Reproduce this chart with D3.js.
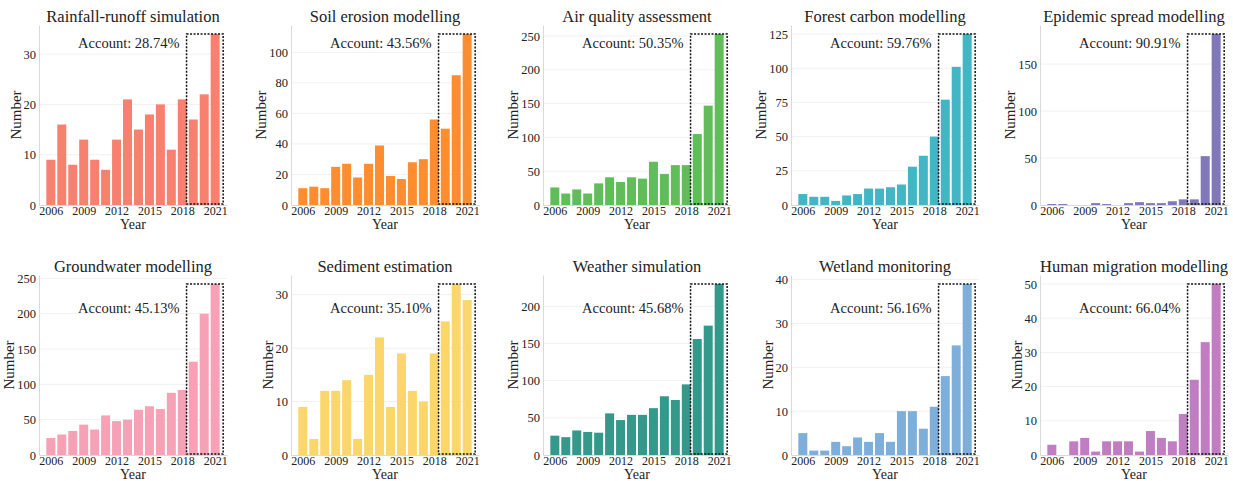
<!DOCTYPE html>
<html>
<head>
<meta charset="utf-8">
<script src="https://cdn.jsdelivr.net/npm/d3@7"></script>
<style>
body{margin:0;background:#fff;}
svg text{font-family:"Liberation Serif","DejaVu Serif",serif !important;fill:#222;}
</style>
</head>
<body>
<div id="chart"></div>
<script>
//年份与刻度
var years=[2006,2007,2008,2009,2010,2011,2012,2013,2014,2015,2016,2017,2018,2019,2020,2021];
var yearTicks=[2006,2009,2012,2015,2018,2021];
var boxYears=[2019,2020,2021];

var titles=["Rainfall-runoff simulation","Soil erosion modelling","Air quality assessment","Forest carbon modelling","Epidemic spread modelling",
    "Groundwater modelling","Sediment estimation","Weather simulation","Wetland monitoring","Human migration modelling"];

var rainfall=[9,16,8,13,9,7,13,21,15,18,20,11,21,17,22,34];
var soil=[11,12,11,25,27,18,27,39,19,17,28,30,56,50,85,112];
var air=[26,17,23,17,32,41,34,41,39,64,46,59,59,105,147,253];
var forest=[8,6,6,3,7,8,12,12,13,15,28,36,50,77,101,125];
var epidemic=[1,1,0,0,2,1,0,2,3,2,2,4,6,6,52,182];
var groundwater=[24,29,34,43,36,56,48,50,64,69,65,88,92,132,200,242];
var sediment=[9,3,12,12,14,3,15,22,9,19,12,10,19,25,32,29];
var weather=[26,24,33,31,30,56,47,54,54,63,79,74,95,156,174,230];
var wetland=[5,1,1,3,2,4,3,5,3,10,10,6,11,18,25,39];
var migration=[3,0,4,5,1,4,4,4,1,7,5,4,12,22,33,50];

var accounts=["28.74%","43.56%","50.35%","59.76%","90.91%","45.13%","35.10%","45.68%","56.16%","66.04%"];

var yTicks=[[0,10,20,30],[0,20,40,60,80,100],[0,50,100,150,200,250],[0,25,50,75,100,125],[0,50,100,150],
    [0,50,100,150,200,250],[0,10,20,30],[0,50,100,150,200],[0,10,20,30,40],[0,10,20,30,40,50]];

var series=[rainfall,soil,air,forest,epidemic,groundwater,sediment,weather,wetland,migration];

var colors=["#F8806F","#FD8D2E","#61BD5A","#43B6C5","#8078B8","#F7A1B7","#FBD66B","#32998B","#7EAFDA","#C17DC1"];

var colLeft=[39,291,543,791,1040],
    rowTop=[25,275],
    plotW=188,
    plotH=180,
    barW=9,
    serif="'Liberation Serif','DejaVu Serif',serif",
    axisColor="#d9d9d9",
    gridColor="#f1f1f1";

var svg=d3.select("#chart")
    .append("svg")
    .attr("width",1233)
    .attr("height",481)
    .attr("font-family",serif);

series.forEach(function (values,i) {
    var col=i%5,row=Math.floor(i/5);
    var chart=svg.append("g")
        .attr("transform","translate("+colLeft[col]+","+rowTop[row]+")");

    var scale_x=d3.scalePoint()
        .domain(years)
        .range([0,plotW])
        .padding(1.08);

    var scale_y=d3.scaleLinear()
        .domain([0,d3.max(values)/0.95])
        .range([plotH,0]);

    //网格线
    chart.selectAll(".grid")
        .data(yTicks[i].slice(1))
        .enter()
        .append("line")
        .attr("x1",0)
        .attr("x2",plotW)
        .attr("y1",function (d) { return scale_y(d); })
        .attr("y2",function (d) { return scale_y(d); })
        .attr("stroke",gridColor);

    var x_axis=chart.append("g")
        .attr("transform","translate(0,"+plotH+")")
        .call(d3.axisBottom(scale_x).tickValues(yearTicks).tickSize(0).tickPadding(1))
        .attr("font-family",serif);
    x_axis.select(".domain").attr("stroke",axisColor);
    x_axis.selectAll("text")
        .attr("font-size","12px")
        .attr("fill","#222");

    var y_axis=chart.append("g")
        .call(d3.axisLeft(scale_y).tickValues(yTicks[i]).tickSize(0).tickPadding(3))
        .attr("font-family",serif);
    y_axis.select(".domain").attr("stroke",axisColor);
    y_axis.selectAll("text")
        .attr("font-size","12.5px")
        .attr("fill","#222");

    var labelW=d3.max(y_axis.selectAll("text").nodes(),function (n) {
        return n.getComputedTextLength();
    });

    chart.selectAll(".bar")
        .data(values)
        .enter()
        .append("rect")
        .attr("x",function (d,j) { return scale_x(years[j])-barW/2; })
        .attr("y",function (d) { return scale_y(d); })
        .attr("width",barW)
        .attr("height",function (d) { return plotH-scale_y(d); })
        .attr("fill",colors[i]);

    //虚线框
    var boxMax=d3.max(boxYears,function (yr) { return values[years.indexOf(yr)]; });
    var boxLeft=scale_x(boxYears[0])-barW/2-2.2,
        boxRight=scale_x(boxYears[boxYears.length-1])+barW/2+3.5;
    chart.append("rect")
        .attr("x",boxLeft)
        .attr("y",scale_y(boxMax))
        .attr("width",boxRight-boxLeft)
        .attr("height",scale_y(0)-1-scale_y(boxMax))
        .attr("fill","none")
        .attr("stroke","#111")
        .attr("stroke-width",1.5)
        .attr("stroke-dasharray","2,1.5");

    chart.append("text")
        .text("Account: "+accounts[i])
        .attr("x",boxLeft-7)
        .attr("y",row==0?23:38)
        .attr("font-size","14.5px")
        .style("text-anchor","end");

    chart.append("text")
        .text(titles[i])
        .attr("x",plotW/2)
        .attr("y",-3)
        .attr("font-size","16.5px")
        .style("text-anchor","middle");

    chart.append("text")
        .text("Year")
        .attr("x",plotW/2)
        .attr("y",plotH+23.5)
        .attr("font-size","14px")
        .style("text-anchor","middle");

    chart.append("text")
        .text("Number")
        .attr("transform","translate("+(-(labelW+6))+","+(plotH/2)+") rotate(-90)")
        .attr("font-size","15px")
        .style("text-anchor","middle");
});
</script>
</body>
</html>
